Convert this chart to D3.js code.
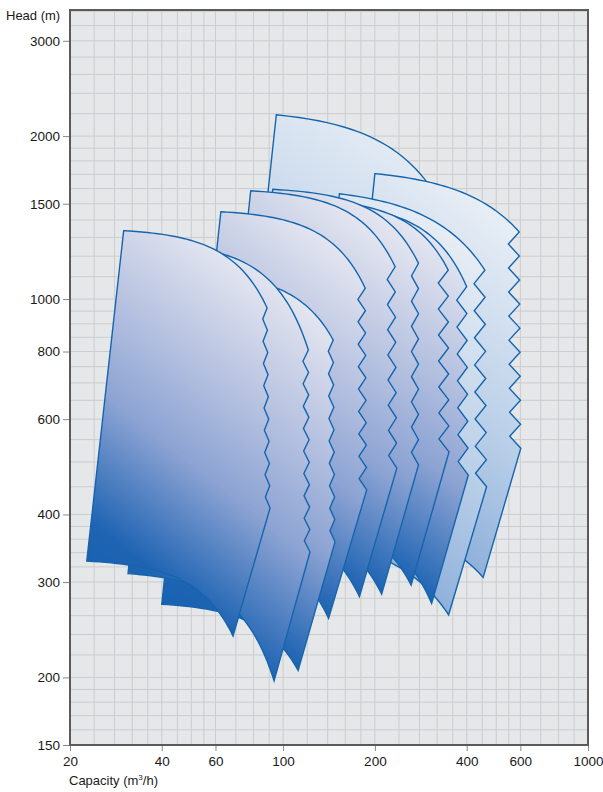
<!DOCTYPE html>
<html>
<head>
<meta charset="utf-8">
<script src="https://cdn.jsdelivr.net/npm/d3@7/dist/d3.min.js"></script>
<style>
  body { margin: 0; background: #fff; }
  text { font-family: "Liberation Sans", Arial, sans-serif; fill: #1a1a1a; }
</style>
</head>
<body>
<div id="chart"></div>
<script>
// axis ticks and grid
const xTicks = [20, 40, 60, 100, 200, 400, 600, 1000];
const yTicks = [150, 200, 300, 400, 600, 800, 1000, 1500, 2000, 3000];
const xGrid = [20, 24, 28, 32, 36, 40, 45, 50, 55, 60, 70, 80, 90, 100, 120, 140, 160, 180, 200,
  240, 280, 320, 360, 400, 450, 500, 550, 600, 700, 800, 900, 1000];
const yGrid = [150, 160, 170, 180, 190, 200, 220, 240, 260, 280, 300, 320, 340, 360, 380, 400,
  450, 500, 550, 600, 650, 700, 750, 800, 850, 900, 950, 1000, 1100, 1200, 1300, 1400, 1500,
  1600, 1700, 1800, 1900, 2000, 2200, 2400, 2600, 2800, 3000, 3200, 3400];

// pump ranges, back to front. points are [capacity m3/h, head m]
const ranges = ["H", "I", "G", "K", "J", "F", "E", "D", "C", "B", "A"];
const topLeft = [[95, 2190], [200, 1705], [153, 1565], [134, 1495], [116, 1530], [92.5, 1595],
  [78.3, 1585], [62.5, 1450], [52, 1115], [40, 1262], [30, 1338]];
const zigTop = [[450, 850], [595, 1330], [459, 1131], [400, 1054], [348, 1131], [278, 1164],
  [233, 1147], [186, 1047], [146, 840], [121, 805], [88.6, 963]];
const zigBottom = [[455, 560], [602, 530], [465, 450], [405, 473], [350, 522], [278, 494],
  [236, 487], [188, 444], [148, 356], [122.5, 341], [90.6, 411]];
const tipPoint = [[344, 324], [453, 306], [349, 261], [307, 274], [263, 296], [210.5, 285],
  [178, 282], [141, 257], [112, 206], [93.4, 197], [68.5, 238.5]];
const bottomLeft = [[79, 834], [152.5, 392], [116, 360], [103, 389], [87.7, 401], [70, 390],
  [60, 389], [47.7, 357], [40, 273], [31, 311], [22.7, 328]];
const curveExp = [2, 2, 2, 3, 3, 3, 3, 3, 3, 3, 3];
const tone = ["light", "light", "light", "dark", "dark", "dark", "dark", "dark", "dark", "dark", "dark"];

// zigzag look (pixels / tooth count)
const zigAmp = [10, 11, 11, 10, 10, 7, 8, 7.5, 5, 5.5, 4.5];
const zigTeeth = [6, 9, 8, 7, 7, 8, 8, 9, 9, 9, 9];

const width = 603, height = 792;
const plot = { left: 70, right: 588, top: 10, bottom: 745 };

const x = d3.scaleLog().domain([20, 1000]).range([plot.left, plot.right]);
const y = d3.scaleLog().domain([150, 3420]).range([plot.bottom, plot.top]);

const svg = d3.select("#chart").append("svg")
  .attr("width", width)
  .attr("height", height);

const defs = svg.append("defs");

svg.append("rect")
  .attr("x", plot.left).attr("y", plot.top)
  .attr("width", plot.right - plot.left).attr("height", plot.bottom - plot.top)
  .attr("fill", "#e6e7e9");

svg.append("g").attr("class", "grid")
  .selectAll("line").data(xGrid).join("line")
  .attr("x1", d => x(d)).attr("x2", d => x(d))
  .attr("y1", plot.top).attr("y2", plot.bottom)
  .attr("stroke", "#cbcccf").attr("stroke-width", 1);

svg.append("g").attr("class", "grid")
  .selectAll("line").data(yGrid).join("line")
  .attr("x1", plot.left).attr("x2", plot.right)
  .attr("y1", d => y(d)).attr("y2", d => y(d))
  .attr("stroke", "#cbcccf").attr("stroke-width", 1);

// head curve H = Hs - c*Q^n through two points, sampled along Q
function pumpCurve(p0, p1, n) {
  const c = (p0[1] - p1[1]) / (Math.pow(p1[0], n) - Math.pow(p0[0], n));
  const hs = p0[1] + c * Math.pow(p0[0], n);
  return d3.range(0, 41).map(i => {
    const q = p0[0] + (p1[0] - p0[0]) * i / 40;
    return [q, hs - c * Math.pow(q, n)];
  });
}

function rangePath(i) {
  const pts = [];
  pumpCurve(topLeft[i], zigTop[i], curveExp[i]).forEach(p => pts.push([x(p[0]), y(p[1])]));
  const x0 = x(zigTop[i][0]), y0 = y(zigTop[i][1]);
  const x1 = x(zigBottom[i][0]), y1 = y(zigBottom[i][1]);
  const steps = zigTeeth[i] * 2;
  for (let k = 1; k <= steps; k++) {
    const t = k / steps;
    pts.push([x0 + (x1 - x0) * t - (k % 2 ? zigAmp[i] : 0), y0 + (y1 - y0) * t]);
  }
  pts.push([x(tipPoint[i][0]), y(tipPoint[i][1])]);
  pumpCurve(bottomLeft[i], tipPoint[i], curveExp[i]).reverse()
    .forEach(p => pts.push([x(p[0]), y(p[1])]));
  return d3.line()(pts) + "Z";
}

ranges.forEach((name, i) => {
  const g = defs.append("linearGradient")
    .attr("id", "grad" + name)
    .attr("x1", 0.25).attr("y1", 1).attr("x2", 0.6).attr("y2", 0);
  const stops = tone[i] === "dark"
    ? [[0, "#1360b1"], [0.18, "#1f64b3"], [0.48, "#8ca3d3"], [0.75, "#bcc6e2"], [1, "#e4e6f0"]]
    : [[0, "#7aa1d4"], [0.5, "#b9cfe8"], [1, "#e8eef5"]];
  g.selectAll("stop").data(stops).join("stop")
    .attr("offset", d => d[0]).attr("stop-color", d => d[1]);
});

svg.append("g").attr("class", "ranges")
  .selectAll("path").data(ranges).join("path")
  .attr("d", (d, i) => rangePath(i))
  .attr("fill", d => `url(#grad${d})`)
  .attr("stroke", "#1565ae")
  .attr("stroke-width", 1.4)
  .attr("stroke-linejoin", "miter");

// frame
svg.append("rect")
  .attr("x", plot.left).attr("y", plot.top)
  .attr("width", plot.right - plot.left).attr("height", plot.bottom - plot.top)
  .attr("fill", "none").attr("stroke", "#5a5a5a").attr("stroke-width", 2);

// y axis
const yAxis = svg.append("g").attr("transform", `translate(${plot.left - 1},0)`)
  .call(d3.axisLeft(y).tickValues(yTicks).tickFormat(d3.format("d")).tickSize(6).tickPadding(3));
yAxis.select(".domain").remove();
yAxis.selectAll("line").attr("stroke", "#888");
yAxis.selectAll("text").style("font-size", "13.5px").attr("fill", "#1a1a1a")
  .style("font-family", "Liberation Sans, Arial, sans-serif");

// x axis
const xAxis = svg.append("g").attr("transform", `translate(0,${plot.bottom + 1})`)
  .call(d3.axisBottom(x).tickValues(xTicks).tickFormat(d3.format("d")).tickSize(5).tickPadding(5));
xAxis.select(".domain").remove();
xAxis.selectAll("line").attr("stroke", "#888");
xAxis.selectAll("text").style("font-size", "13.5px").attr("fill", "#1a1a1a")
  .style("font-family", "Liberation Sans, Arial, sans-serif");

svg.append("text")
  .attr("x", 6).attr("y", 20)
  .style("font-size", "13px")
  .text("Head (m)");

const xl = svg.append("text")
  .attr("x", 69).attr("y", 785)
  .style("font-size", "13px");
xl.append("tspan").text("Capacity (m");
xl.append("tspan").attr("dy", -5).style("font-size", "8px").text("3");
xl.append("tspan").attr("dy", 5).text("/h)");
</script>
</body>
</html>
